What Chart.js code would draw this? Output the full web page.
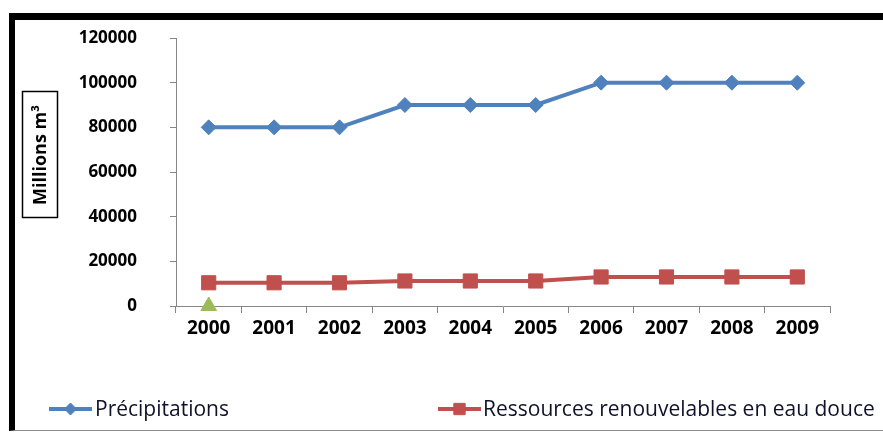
<!DOCTYPE html>
<html>
<head>
<meta charset="utf-8">
<title>Précipitations et ressources en eau douce</title>
<script src="https://cdn.jsdelivr.net/npm/chart.js@4/dist/chart.umd.min.js"></script>
<style>
  html, body { margin: 0; padding: 0; background: #fff; }
  #wrap { position: relative; width: 883px; height: 432px; overflow: hidden; }
  #frame {
    position: absolute; left: 9px; top: 13px; right: 0; bottom: 1px;
    border-top: 7px solid #000; border-left: 6px solid #000; border-bottom: 1px solid #8c8c8c;
  }
  #chart { position: absolute; left: 0; top: 0; }
</style>
</head>
<body>
<div id="wrap">
  <div id="frame"></div>
  <canvas id="chart" width="883" height="432"></canvas>
</div>
<script>
  "use strict";

  // ---- Data ----
  const years = ["2000", "2001", "2002", "2003", "2004", "2005", "2006", "2007", "2008", "2009"];
  const precipitations = [80000, 80000, 80000, 90000, 90000, 90000, 100000, 100000, 100000, 100000];
  const ressources = [10400, 10400, 10400, 11200, 11200, 11200, 13000, 13000, 13000, 13000];
  // lone marker sitting on the axis at 2000
  const marqueur = [0, null, null, null, null, null, null, null, null, null];
  const yTicks = [0, 20000, 40000, 60000, 80000, 100000, 120000];

  const BLUE = "#4f81bd";
  const RED = "#c0504d";
  const GREEN = "#9bbb59";
  const AXIS = "#868686";
  const FONT = "'Open Sans', 'Noto Sans', sans-serif";

  // legend entries drawn by hand: line + marker, then label
  const legendItems = [
    {dataset: 0, x0: 49, x1: 92, textX: 95, radius: 6},
    {dataset: 1, x0: 438, x1: 481, textX: 483, radius: 8},
  ];
  const LEGEND_Y = 409;

  const decorPlugin = {
    id: "decor",
    afterDraw(chart) {
      const ctx = chart.ctx;
      ctx.save();

      // boxed y-axis title
      ctx.strokeStyle = "#000";
      ctx.lineWidth = 1.5;
      ctx.strokeRect(22.5, 91.5, 35, 126);
      ctx.translate(41, 155);
      ctx.rotate(-Math.PI / 2);
      ctx.fillStyle = "#000";
      ctx.font = "bold 18px " + FONT;
      ctx.textAlign = "center";
      ctx.textBaseline = "middle";
      ctx.fillText("Millions m³", 0, 0);
      ctx.setTransform(1, 0, 0, 1, 0, 0);

      // legend
      ctx.font = "21px " + FONT;
      ctx.textAlign = "left";
      legendItems.forEach((item) => {
        const ds = chart.data.datasets[item.dataset];
        ctx.strokeStyle = ds.borderColor;
        ctx.lineWidth = 4;
        ctx.beginPath();
        ctx.moveTo(item.x0, LEGEND_Y);
        ctx.lineTo(item.x1, LEGEND_Y);
        ctx.stroke();
        ctx.fillStyle = ds.backgroundColor;
        ctx.strokeStyle = ds.borderColor;
        ctx.lineWidth = 1;
        Chart.helpers.drawPoint(ctx, {
          pointStyle: ds.pointStyle,
          radius: item.radius,
          borderWidth: 1,
          rotation: 0,
        }, (item.x0 + item.x1) / 2, LEGEND_Y);
        ctx.fillStyle = "#10122a";
        ctx.fillText(ds.label, item.textX, LEGEND_Y + 1);
      });

      ctx.restore();
    },
  };

  new Chart(document.getElementById("chart"), {
    type: "line",
    data: {
      labels: years,
      datasets: [
        {
          label: "Précipitations",
          data: precipitations,
          borderColor: BLUE,
          backgroundColor: BLUE,
          borderWidth: 4,
          pointStyle: "rectRot",
          pointRadius: 7.5,
          pointBorderWidth: 1,
          tension: 0,
        },
        {
          label: "Ressources renouvelables en eau douce",
          data: ressources,
          borderColor: RED,
          backgroundColor: RED,
          borderWidth: 4,
          pointStyle: "rect",
          pointRadius: 10,
          pointBorderWidth: 1,
          tension: 0,
        },
        {
          label: "",
          data: marqueur,
          showLine: false,
          borderColor: GREEN,
          backgroundColor: GREEN,
          pointStyle: "triangle",
          pointRadius: 9,
          pointBorderWidth: 1,
          clip: false,
        },
      ],
    },
    options: {
      responsive: false,
      animation: false,
      devicePixelRatio: 1,
      layout: {padding: {top: 38, right: 53, bottom: 0, left: 0}},
      plugins: {
        legend: {display: false},
        tooltip: {enabled: false},
      },
      scales: {
        x: {
          offset: true,
          grid: {offset: true, drawOnChartArea: false, drawTicks: true, tickLength: 7, color: AXIS},
          border: {color: AXIS, width: 1},
          ticks: {color: "#000", padding: 4, font: {family: FONT, size: 19, weight: "bold"}},
          afterFit(scale) { scale.height = 126; },
        },
        y: {
          min: 0,
          max: 120000,
          grid: {drawOnChartArea: false, drawTicks: true, tickLength: 6, color: AXIS},
          border: {color: AXIS, width: 1},
          ticks: {
            color: "#000",
            padding: 33,
            font: {family: FONT, size: 17, weight: "bold"},
            callback: (value) => String(value),
          },
          afterBuildTicks(scale) { scale.ticks = yTicks.map((v) => ({value: v})); },
          afterFit(scale) {
            // the wide label gap would otherwise push the plot down
            scale.width = 176;
            scale.paddingTop = 12;
            scale.paddingBottom = 12;
          },
        },
      },
    },
    plugins: [decorPlugin],
  });
</script>
</body>
</html>
